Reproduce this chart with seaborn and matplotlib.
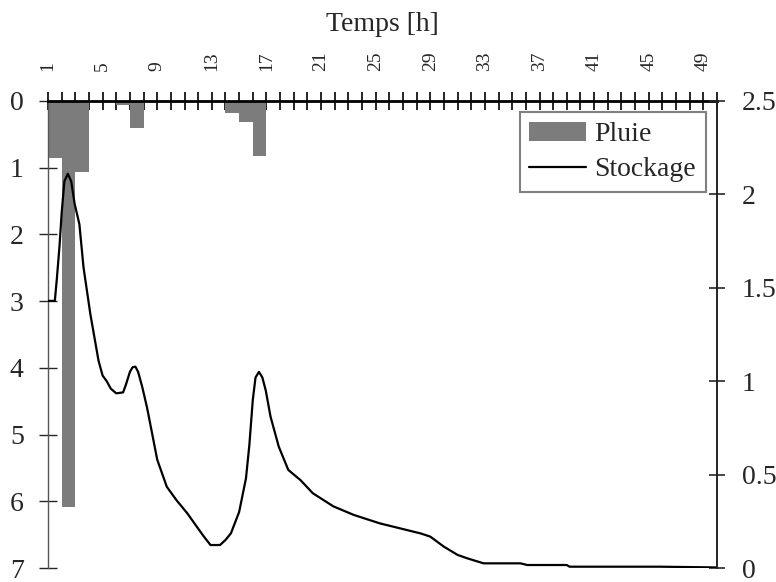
import matplotlib
matplotlib.use("Agg")
import matplotlib.pyplot as plt
from matplotlib.ticker import MultipleLocator
import numpy as np
import seaborn as sns

# rain per hour (left axis, inverted)
hours = [1, 2, 3, 4, 5, 6, 7, 8, 9, 10, 11, 12, 13, 14, 15, 16, 17]
pluie = [0.85, 6.08, 1.07, 0.0, 0.0, 0.06, 0.40, 0.0, 0.0, 0.0, 0.0, 0.0, 0.0, 0.18, 0.31, 0.82, 0.0]

# storage (right axis)
t_stock = [1.0, 1.5, 1.65, 1.85, 2.0, 2.2, 2.45, 2.7, 2.95, 3.3, 3.6, 4.1, 4.7, 5.0, 5.3,
           5.6, 6.0, 6.5, 6.7, 7.0, 7.2, 7.4, 7.6, 7.9, 8.25, 8.6, 9.0, 9.7, 10.4,
           11.2, 11.9, 12.4, 12.9, 13.6, 14.0, 14.4, 15.0, 15.5, 15.75, 16.0, 16.2, 16.45,
           16.7, 16.95, 17.3, 17.9, 18.6, 19.5, 20.4, 21.9, 23.4, 25.3, 26.8, 28.3,
           29.0, 30.0, 31.0, 31.7, 32.9, 35.6, 36.1, 39.0, 39.2, 45.8, 50.0]
stockage = [1.43, 1.43, 1.55, 1.73, 1.90, 2.07, 2.11, 2.07, 1.95, 1.84, 1.61, 1.36, 1.11, 1.03, 1.0,
            0.96, 0.935, 0.94, 0.98, 1.05, 1.075, 1.078, 1.05, 0.97, 0.86, 0.73, 0.58, 0.435, 0.364,
            0.293, 0.221, 0.17, 0.123, 0.123, 0.15, 0.186, 0.30, 0.48, 0.66, 0.90, 1.02, 1.05,
            1.02, 0.95, 0.81, 0.65, 0.525, 0.47, 0.40, 0.33, 0.284, 0.239, 0.212, 0.185,
            0.168, 0.114, 0.07, 0.052, 0.025, 0.025, 0.016, 0.016, 0.007, 0.007, 0.003]

xtick_pos = [1, 5, 9, 13, 17, 21, 25, 29, 33, 37, 41, 45, 49]
xtick_lab = ['1', '5', '9', '13', '17', '21', '25', '29', '33', '37', '41', '45', '49']
ytick_left = [0, 1, 2, 3, 4, 5, 6, 7]
ytick_right = [0, 0.5, 1, 1.5, 2, 2.5]
ytick_right_lab = ['0', '0.5', '1', '1.5', '2', '2.5']

sns.set_style("white")
plt.rcParams['font.family'] = ['Liberation Serif', 'DejaVu Serif']

fig = plt.figure(figsize=(7.76, 5.82), dpi=100)
ax = fig.add_axes([48/776, 1-568/582, (717-48)/776, (568-101)/582])
ax2 = ax.twinx()

bars = ax.bar(hours, pluie, width=1, align='edge', color='#7c7c7c', linewidth=0, label='Pluie')
sns.lineplot(x=t_stock, y=stockage, ax=ax2, color='black', linewidth=1.6,
             estimator=None, label='Stockage')

ax.set_xlim(1, 50)
ax.set_ylim(7, 0)
ax2.set_ylim(0, 2.5)

ax.xaxis.tick_top()
ax.xaxis.set_label_position('top')
ax.set_xticks(xtick_pos, labels=xtick_lab, rotation=90)
ax.xaxis.set_minor_locator(MultipleLocator(1))
ax.tick_params(axis='x', which='both', direction='inout', length=13, width=1.2,
               color='black', top=True, bottom=False, labeltop=True, labelbottom=False)
ax.tick_params(axis='x', which='major', labelsize=14, pad=15)
ax.set_xlabel('Temps [h]', fontsize=20, labelpad=15)

ax.set_yticks(ytick_left)
ax.tick_params(axis='y', direction='inout', length=13, width=1.0, labelsize=20, pad=11)
ax2.set_yticks(ytick_right, labels=ytick_right_lab)
ax2.tick_params(axis='y', direction='inout', length=12, width=1.2, labelsize=20, pad=12)
ax2.set_ylabel('')

for s in ['bottom', 'right']:
    ax.spines[s].set_visible(False)
ax.spines['top'].set_linewidth(2.0)
ax.spines['top'].set_color('black')
ax.spines['left'].set_linewidth(1.0)
ax.spines['left'].set_color('#555555')
for s in ['bottom', 'left', 'top']:
    ax2.spines[s].set_visible(False)
ax2.spines['right'].set_linewidth(1.4)
ax2.spines['right'].set_color('#222222')

h1, l1 = ax.get_legend_handles_labels()
h2, l2 = ax2.get_legend_handles_labels()
leg = ax2.legend(h1 + h2, l1 + l2, loc='upper right', fontsize=20, frameon=True,
                 fancybox=False, framealpha=1, edgecolor='#808080', borderpad=0.35,
                 borderaxespad=0.4, handlelength=2.05, handletextpad=0.3, labelspacing=0.35)
leg.get_frame().set_linewidth(1.5)

fig.savefig('out.png', dpi=100)
